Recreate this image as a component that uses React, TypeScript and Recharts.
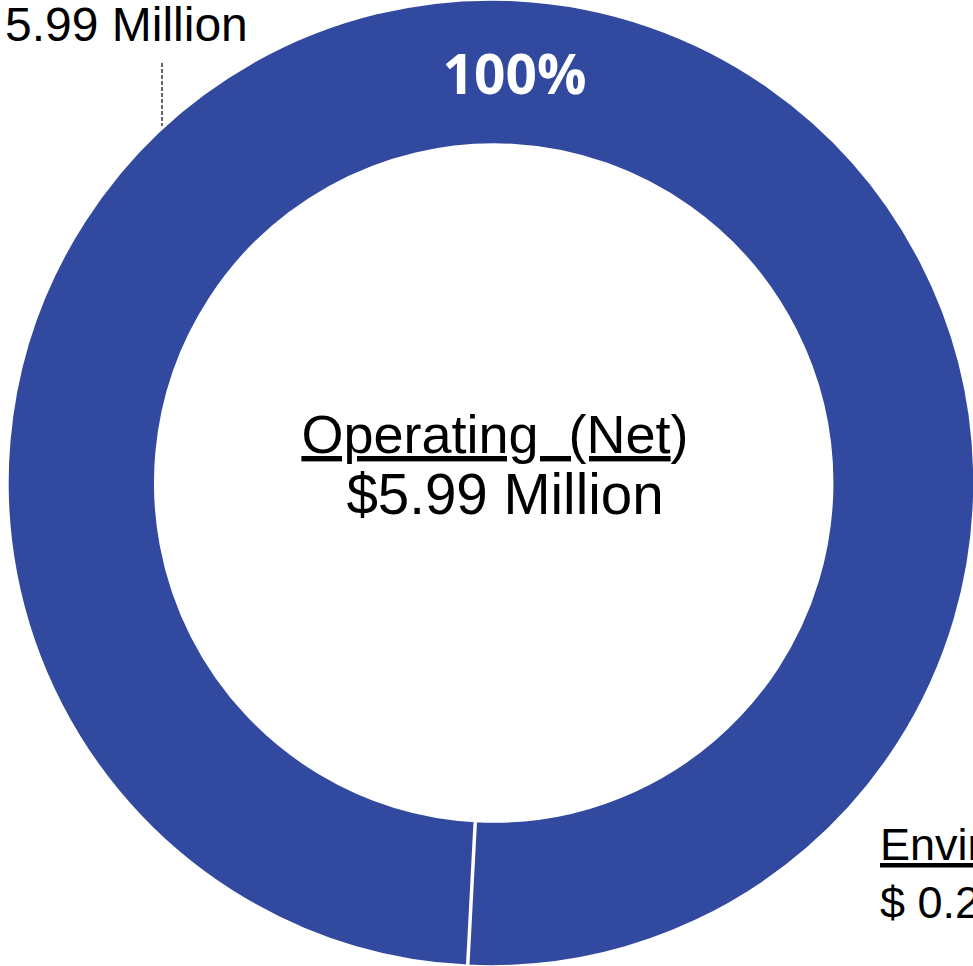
import { PieChart, Pie, Cell } from 'recharts'

// segment data
const segmentNames = ['Operating (Net)']
const segmentValues = [5.99]
const segmentColors = ['#31499e']

const centerTitle = 'Operating  (Net'
const centerAmount = '$5.99 Million'
const sideAmount = '5.99 Million'
const otherTitle = 'Environmental'
const otherAmount = '$ 0.24 Million'

const W = 973
const H = 966
const CX = 493
const CY = 483

const pieData = segmentNames.map((name, i) => ({
  name,
  value: segmentValues[i],
}))

const RADIAN = Math.PI / 180

const PercentLabel = (props: any) => {
  const { cx, cy, midAngle, innerRadius, outerRadius, percent } = props
  const r = (innerRadius + outerRadius) / 2
  const x = cx + r * Math.cos(-midAngle * RADIAN)
  const y = cy + r * Math.sin(-midAngle * RADIAN)
  return (
    <text
      x={x}
      y={y}
      fill="#ffffff"
      textAnchor="middle"
      dominantBaseline="central"
      fontFamily="'Open Sans', sans-serif"
      fontWeight={700}
      fontSize={55}
    >
      {`${Math.round(percent * 100)}%`}
    </text>
  )
}

export default function App() {
  return (
    <div style={{ position: 'absolute', left: 0, top: 0, width: W, height: H, background: '#fff', overflow: 'hidden' }}>
      <PieChart width={W} height={H} margin={{ top: 0, right: 0, bottom: 0, left: 0 }}>
        <Pie
          data={pieData}
          dataKey="value"
          nameKey="name"
          cx={CX}
          cy={CY}
          innerRadius={338}
          outerRadius={484}
          startAngle={267}
          endAngle={-93}
          stroke="#ffffff"
          strokeWidth={3.5}
          label={PercentLabel}
          labelLine={false}
          isAnimationActive={false}
        >
          {pieData.map((d, i) => (
            <Cell key={d.name} fill={segmentColors[i]} />
          ))}
        </Pie>
      </PieChart>
      <svg
        width={W}
        height={H}
        style={{ position: 'absolute', left: 0, top: 0, pointerEvents: 'none' }}
        fontFamily="'Liberation Sans', Arial, sans-serif"
      >
        {/* centre label */}
        <text x={495} y={453} textAnchor="middle" fontSize={54} fill="#000" style={{ whiteSpace: 'pre' }}>
          <tspan textDecoration="underline">{centerTitle}</tspan>
          <tspan>)</tspan>
        </text>
        <text x={505} y={514} textAnchor="middle" fontSize={56.5} fill="#000">
          {centerAmount}
        </text>

        {/* outside label top-left */}
        <text x={5} y={41} fontSize={48} fill="#000">
          {sideAmount}
        </text>
        <line x1={162} y1={63} x2={162} y2={126} stroke="#000" strokeWidth={1.2} strokeDasharray="4 2" />

        {/* neighbouring label bottom-right (cut by the frame, as in the source) */}
        <text x={880} y={860} fontSize={45} fill="#000" textDecoration="underline">
          {otherTitle}
        </text>
        <text x={880} y={918} fontSize={45} fill="#000">
          {otherAmount}
        </text>
      </svg>
    </div>
  )
}
